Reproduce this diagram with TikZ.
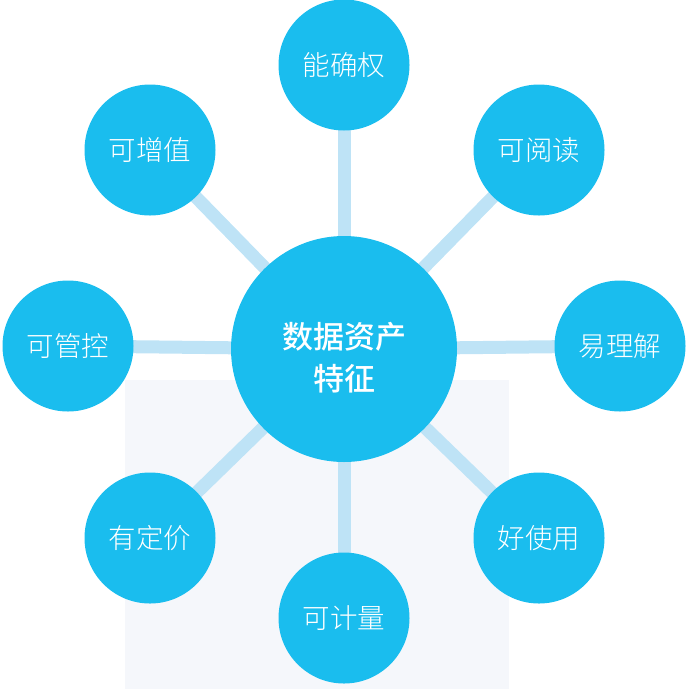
\documentclass[tikz,border=0pt]{standalone}
\usepackage{fontspec}
\newfontfamily\cjkmed{Noto Sans CJK SC Medium}
\newfontfamily\cjklight{Noto Sans CJK SC Light}
\definecolor{bub}{HTML}{1ABDEE}
\definecolor{lnk}{HTML}{BEE3F6}
\definecolor{bgp}{HTML}{F5F7FB}
\pgfdeclarelayer{back}
\pgfsetlayers{back,main}
\begin{document}
\begin{tikzpicture}[x=1pt,y=-1pt,
  outer/.style={circle,fill=bub,minimum size=131pt,inner sep=0pt,text=white,font=\cjklight\fontsize{27.5}{30}\selectfont},
  hub/.style={circle,fill=bub,minimum size=226pt,inner sep=0pt},
  hubtext/.style={text=white,align=center,inner sep=0pt,font=\cjkmed\fontsize{31}{42}\selectfont},
  link/.style={draw=lnk,line width=13pt}]
\useasboundingbox (0,0) rectangle (690,689);
\node[hub,label={[hubtext,yshift=-9pt]center:数据资产\\特征}] (hub) at (344,349) {};
\node[outer] (t)  at (344,65)  {能确权};
\node[outer] (tr) at (539,150) {可阅读};
\node[outer] (r)  at (620,346) {易理解};
\node[outer] (br) at (539,538) {好使用};
\node[outer] (b)  at (344,618) {可计量};
\node[outer] (bl) at (150,538) {有定价};
\node[outer] (l)  at (68,346)  {可管控};
\node[outer] (tl) at (150,150) {可增值};
\begin{pgfonlayer}{back}
\fill[bgp] (125,380) rectangle (509,689);
\foreach \n in {t,tr,r,br,b,bl,l,tl}{\draw[link] (hub.center) -- (\n.center);}
\end{pgfonlayer}
\end{tikzpicture}
\end{document}
